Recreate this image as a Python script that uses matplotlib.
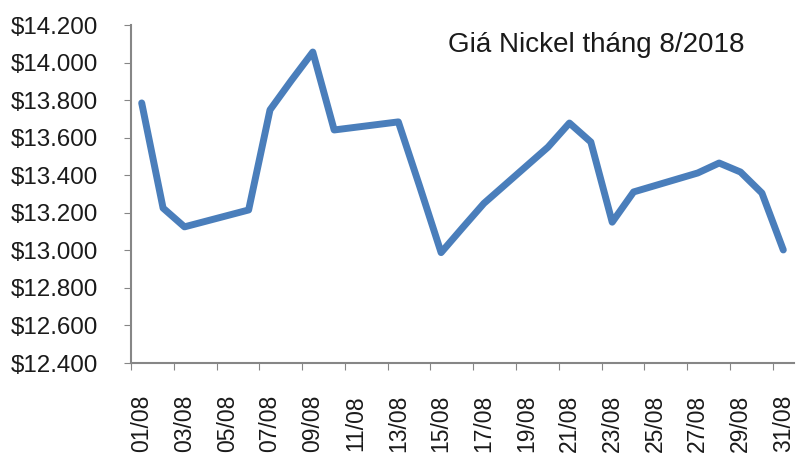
import matplotlib.pyplot as plt
import numpy as np

# Nickel price, August 2018 (trading days only)
days = [1, 2, 3, 6, 7, 8, 9, 10, 13, 14, 15, 16, 17, 20, 21, 22, 23, 24, 27, 28, 29, 30, 31]
prices = [13785, 13225, 13125, 13215, 13748, 13905, 14056, 13641, 13684, 13340, 12988,
          13120, 13250, 13550, 13678, 13577, 13150, 13311, 13412, 13465, 13417, 13305, 13002]
day_labels = ['%02d/08' % d for d in range(1, 32, 2)]
y_ticks = list(range(12400, 14201, 200))

plt.rcParams['font.family'] = ['Liberation Sans', 'DejaVu Sans']

fig = plt.figure(figsize=(7.96, 4.58), dpi=100)
ax = fig.add_axes([131 / 796, 1 - 363 / 458, (794 - 131) / 796, 338 / 458])

x = np.array(days) - 1
ax.plot(x, prices, color='#4A7EBB', linewidth=5, solid_joinstyle='round',
        solid_capstyle='round', clip_on=False)

ax.set_xlim(-0.5, 30.5)
ax.set_ylim(12400, 14200)

# ticks at category boundaries, labels at categories
ax.set_xticks(np.arange(-0.5, 31, 2))
ax.set_xticklabels([])
ax.set_xticks(np.arange(0, 31, 2), minor=True)
ax.set_xticklabels(day_labels, minor=True, rotation=90, fontsize=16.5, color='#1a1a1a')
ax.tick_params(axis='x', which='major', direction='out', length=5, color='#868686')
ax.tick_params(axis='x', which='minor', length=0, pad=23)

ax.set_yticks(y_ticks)
ax.set_yticklabels(['$' + format(v, ',').replace(',', '.') for v in y_ticks],
                   fontsize=17.4, color='#1a1a1a')
ax.tick_params(axis='y', direction='out', length=5, color='#868686', pad=19)

for s in ['top', 'right']:
    ax.spines[s].set_visible(False)
for s in ['left', 'bottom']:
    ax.spines[s].set_color('#868686')
    ax.spines[s].set_linewidth(1.5)

fig.text(596 / 796, 1 - 45 / 458, 'Giá Nickel tháng 8/2018', fontsize=20,
         ha='center', va='center', color='#1a1a1a')

fig.savefig('out.png', dpi=100)
